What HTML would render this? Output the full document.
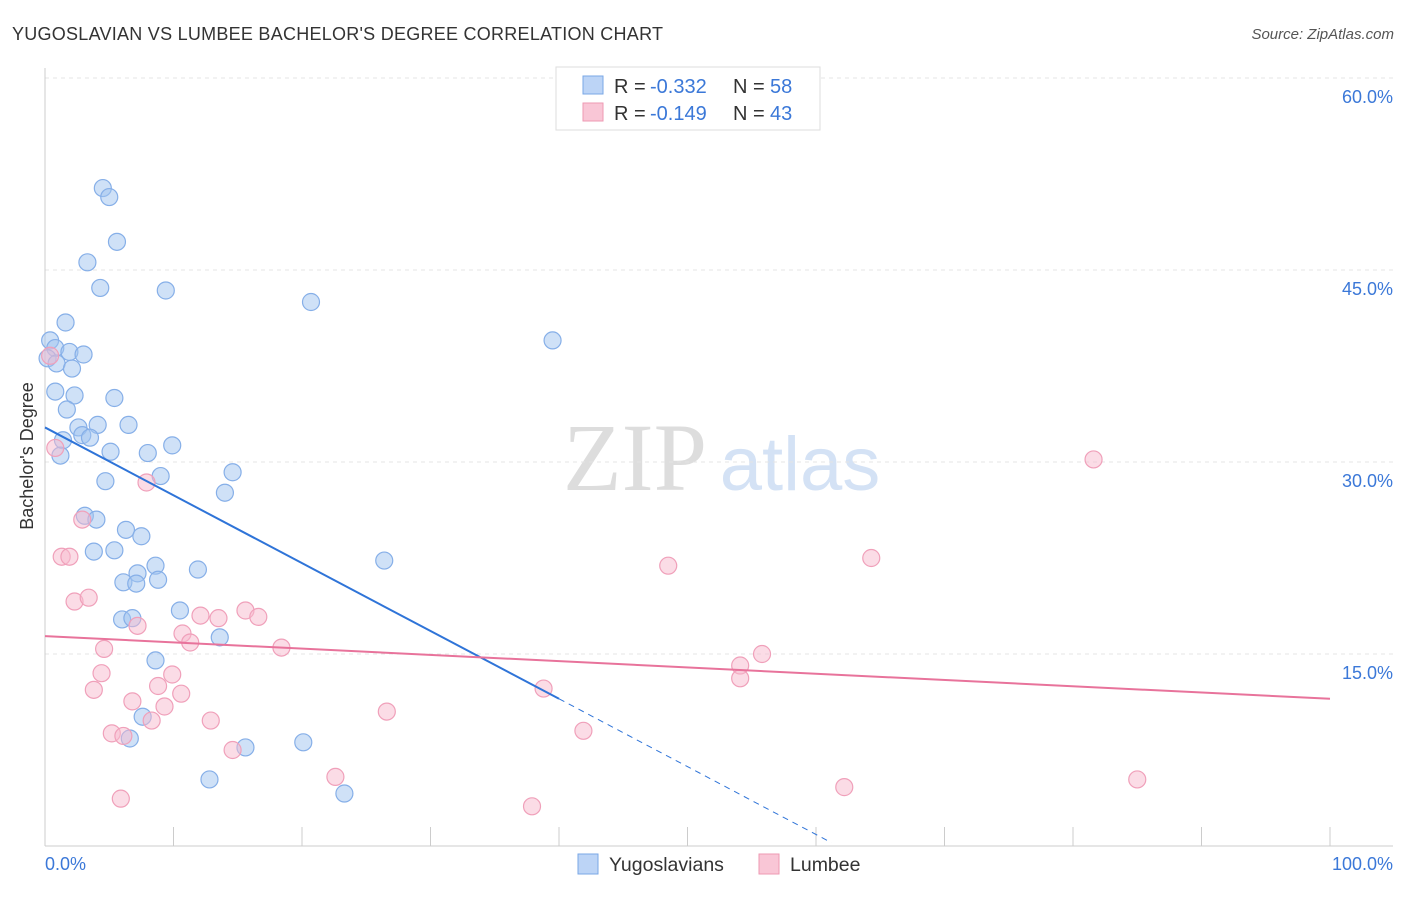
<!DOCTYPE html>
<html><head><meta charset="utf-8"><style>
body{margin:0;background:#fff;font-family:"Liberation Sans",sans-serif;}
svg text{font-family:"Liberation Sans",sans-serif;}
</style></head><body>
<svg id="chart" width="1406" height="892" xmlns="http://www.w3.org/2000/svg">
<text x="12" y="40" font-size="18" fill="#333" textLength="651">YUGOSLAVIAN VS LUMBEE BACHELOR'S DEGREE CORRELATION CHART</text>
<text x="1394" y="39" font-size="15" fill="#555" text-anchor="end" font-style="italic">Source: ZipAtlas.com</text>
<text x="33" y="456" font-size="18" fill="#333" text-anchor="middle" transform="rotate(-90 33 456)">Bachelor's Degree</text>
<g>
<text x="635" y="490" font-size="96" fill="#ddd" text-anchor="middle" font-family="Liberation Serif" style="font-family:'Liberation Serif',serif">ZIP</text>
<text x="800" y="490" font-size="76" fill="#d4e2f5" text-anchor="middle">atlas</text>
</g>
<g id="grid"></g>
<g id="marks"></g>
<g>
<rect x="556" y="67" width="264" height="63" fill="#fff" stroke="#ddd"/>
<rect x="583" y="76" width="20" height="18" fill="#bcd4f6" stroke="#7aa7e6"/>
<rect x="583" y="103" width="20" height="18" fill="#f9c6d6" stroke="#ee99b3"/>
<text x="614" y="93" font-size="20" fill="#333">R =</text>
<text x="650" y="93" font-size="20" fill="#3b78d8">-0.332</text>
<text x="733" y="93" font-size="20" fill="#333">N =</text>
<text x="770" y="93" font-size="20" fill="#3b78d8">58</text>
<text x="614" y="120" font-size="20" fill="#333">R =</text>
<text x="650" y="120" font-size="20" fill="#3b78d8">-0.149</text>
<text x="733" y="120" font-size="20" fill="#333">N =</text>
<text x="770" y="120" font-size="20" fill="#3b78d8">43</text>
</g>
<g>
<rect x="578" y="854" width="20" height="20" fill="#bcd4f6" stroke="#7aa7e6"/>
<text x="609" y="871" font-size="19.5" fill="#333">Yugoslavians</text>
<rect x="759" y="854" width="20" height="20" fill="#f9c6d6" stroke="#ee99b3"/>
<text x="790" y="871" font-size="19.5" fill="#333">Lumbee</text>
</g>
<text x="45" y="870" font-size="18" fill="#3b78d8">0.0%</text>
<text x="1393" y="870" font-size="18" fill="#3b78d8" text-anchor="end">100.0%</text>
</svg>
<script>
const yTicks=[15,30,45,60];
const yTickLabels=["15.0%","30.0%","45.0%","60.0%"];
const blueX=[4.5,5.0,5.6,3.3,4.3,9.4,20.7,1.6,0.4,0.8,1.9,3.0,0.2,0.9,2.1,39.5,0.8,2.3,5.4,1.7,2.6,4.1,6.5,2.9,3.5,1.4,5.1,1.2,8.0,9.9,14.6,9.0,4.7,14.0,3.1,4.0,6.3,7.5,5.4,3.8,26.4,8.6,11.9,7.2,8.8,6.1,7.1,10.5,6.0,6.8,13.6,8.6,7.6,6.6,15.6,20.1,12.8,23.3];
const blueY=[51.4,50.7,47.2,45.6,43.6,43.4,42.5,40.9,39.5,38.9,38.6,38.4,38.1,37.7,37.3,39.5,35.5,35.2,35.0,34.1,32.7,32.9,32.9,32.1,31.9,31.7,30.8,30.5,30.7,31.3,29.2,28.9,28.5,27.6,25.8,25.5,24.7,24.2,23.1,23.0,22.3,21.9,21.6,21.3,20.8,20.6,20.5,18.4,17.7,17.8,16.3,14.5,10.1,8.4,7.7,8.1,5.2,4.1];
const pinkX=[0.8,2.9,1.3,1.9,7.9,2.3,3.4,81.6,48.5,64.3,7.2,10.7,11.3,12.1,13.5,15.6,16.6,18.4,4.6,4.4,9.9,8.8,3.8,10.6,6.8,9.3,8.3,12.9,26.6,5.2,6.1,14.6,54.1,55.8,54.1,38.8,41.9,22.6,5.9,37.9,62.2,85.0,0.4];
const pinkY=[31.1,25.5,22.6,22.6,28.4,19.1,19.4,30.2,21.9,22.5,17.2,16.6,15.9,18.0,17.8,18.4,17.9,15.5,15.4,13.5,13.4,12.5,12.2,11.9,11.3,10.9,9.8,9.8,10.5,8.8,8.6,7.5,14.1,15.0,13.1,12.3,9.0,5.4,3.7,3.1,4.6,5.2,38.3];
const blueTrend=[32.7,-0.53];
const pinkTrend=[16.4,-0.049];
const X0=45,X1=1330,Y0=846,YS=12.8;
const sx=v=>X0+v*(X1-X0)/100, sy=v=>Y0-v*YS;
const NS="http://www.w3.org/2000/svg";
const grid=document.getElementById('grid'), marks=document.getElementById('marks');
function mk(tag,attrs,parent){const e=document.createElementNS(NS,tag);for(const k in attrs)e.setAttribute(k,attrs[k]);parent.appendChild(e);return e;}
yTicks.forEach((t,i)=>{
 const l=mk('line',{x1:X0,x2:1393,y1:sy(t),y2:sy(t),stroke:'#e4e4e4','stroke-dasharray':'4,4'},grid);
 
 
 const tx=mk('text',{x:1393,y:sy(t)+25,'font-size':18,fill:'#3b78d8','text-anchor':'end'},grid);
 tx.textContent=yTickLabels[i];
 
 
});
const ax=mk('line',{x1:X0,x2:X0,y1:68,y2:846,stroke:'#ccc'},grid);


const bx=mk('line',{x1:X0,x2:1393,y1:846,y2:846,stroke:'#ccc'},grid);


for(let i=0;i<=10;i++){
 const t=mk('line',{x1:sx(i*10),x2:sx(i*10),y1:827,y2:846,stroke:'#ccc'},grid);
 
 
}
blueX.forEach((x,i)=>{
 const c=mk('circle',{cx:sx(x),cy:sy(blueY[i]),r:8.5,fill:'rgba(160,195,240,0.5)',stroke:'#86afe8','stroke-width':1.2},marks);
 
 
});
pinkX.forEach((x,i)=>{
 const c=mk('circle',{cx:sx(x),cy:sy(pinkY[i]),r:8.5,fill:'rgba(248,185,205,0.5)',stroke:'#f0a0ba','stroke-width':1.2},marks);
 
 
});
const bt=v=>blueTrend[0]+blueTrend[1]*v;
const b1=mk('line',{x1:sx(0),y1:sy(bt(0)),x2:sx(40),y2:sy(bt(40)),stroke:'#2f74d8','stroke-width':2},marks);


const xz=-blueTrend[0]/blueTrend[1];
const b2=mk('line',{x1:sx(40),y1:sy(bt(40)),x2:sx(xz-0.5),y2:sy(bt(xz-0.5)),stroke:'#2f74d8','stroke-width':1,'stroke-dasharray':'6,5'},marks);


const pt=v=>pinkTrend[0]+pinkTrend[1]*v;
const p1=mk('line',{x1:sx(0),y1:sy(pt(0)),x2:sx(100),y2:sy(pt(100)),stroke:'#e8739b','stroke-width':2},marks);


</script>
</body></html>
